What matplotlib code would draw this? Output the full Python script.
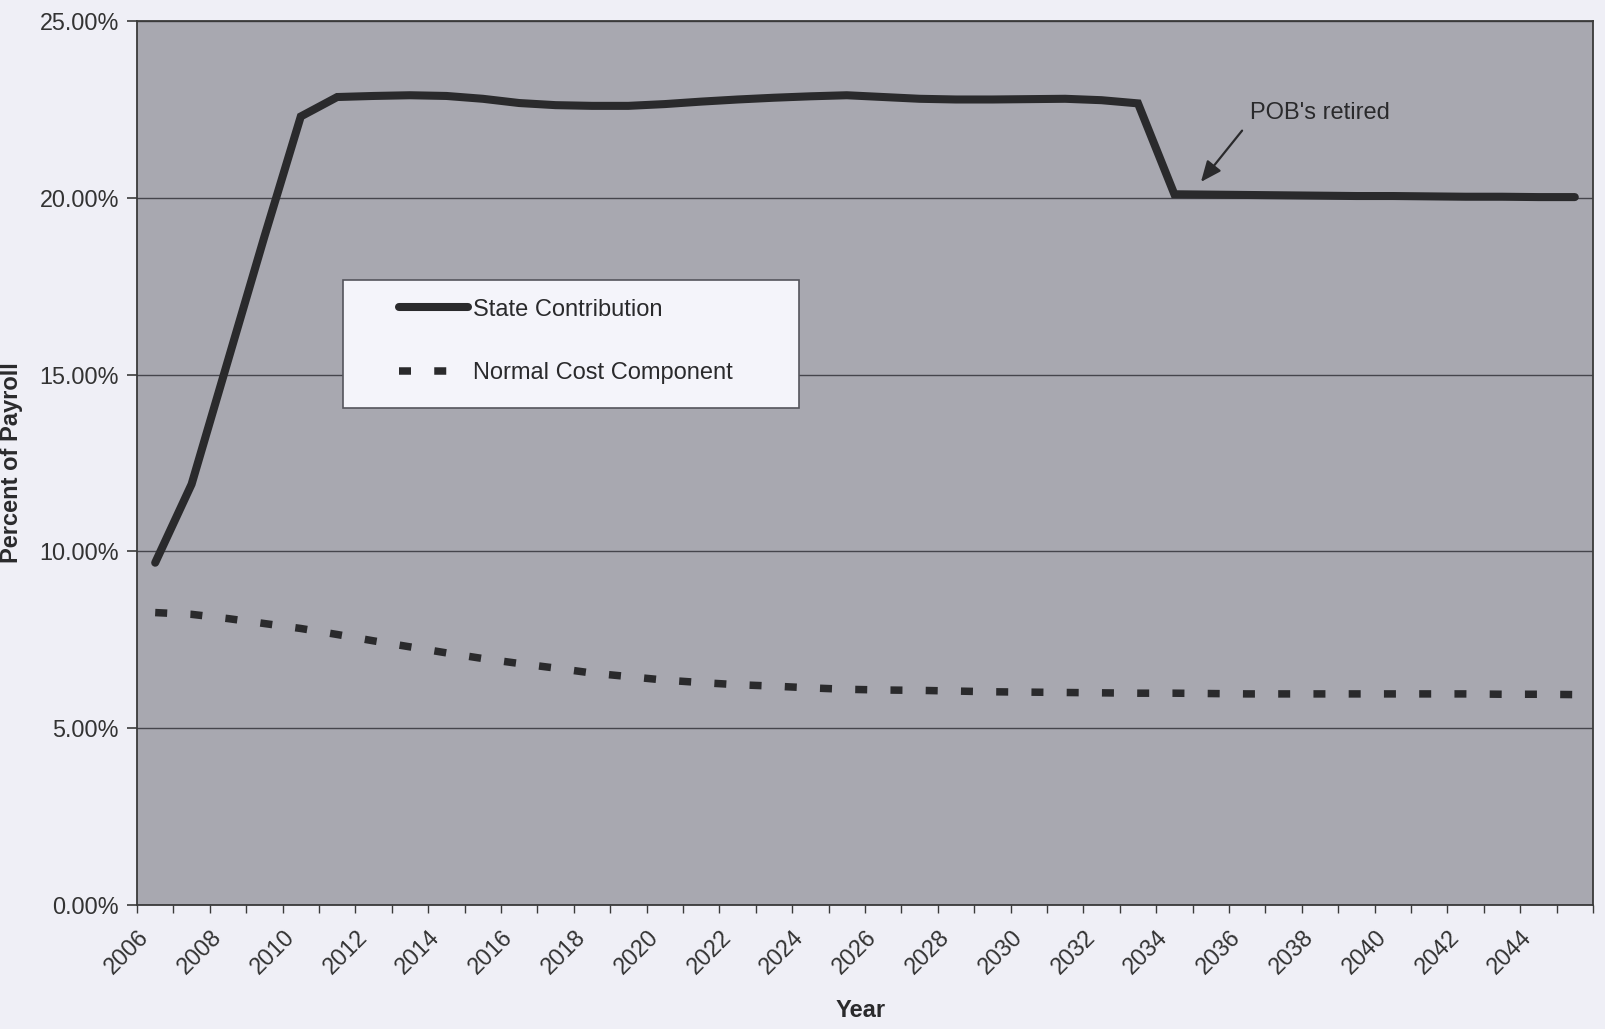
import matplotlib
matplotlib.use('Agg')
import matplotlib.pyplot as plt
from matplotlib.patches import Rectangle
import numpy as np

plt.rcParams['font.family'] = ['Liberation Sans', 'DejaVu Sans']

years = list(range(2006, 2046))
state_contribution = [9.68, 11.9, 15.4, 18.9, 22.3,
                      22.85, 22.88, 22.9, 22.88, 22.8,
                      22.68, 22.62, 22.6, 22.6, 22.65,
                      22.72, 22.78, 22.83, 22.87, 22.9,
                      22.85, 22.8, 22.78, 22.78, 22.79,
                      22.8, 22.76, 22.67, 20.1, 20.09,
                      20.08, 20.07, 20.06, 20.05, 20.05,
                      20.04, 20.03, 20.03, 20.02, 20.02]
normal_cost = [8.27, 8.22, 8.10, 7.96, 7.82, 7.65, 7.47, 7.30, 7.13, 6.97,
               6.83, 6.70, 6.56, 6.46, 6.36, 6.29, 6.23, 6.19, 6.14, 6.10,
               6.08, 6.07, 6.05, 6.03, 6.02, 6.01, 6.00, 5.99, 5.99, 5.98,
               5.97, 5.97, 5.97, 5.97, 5.97, 5.97, 5.97, 5.96, 5.96, 5.95]
y_ticks = [0, 5, 10, 15, 20, 25]
series_names = ['State Contribution', 'Normal Cost Component']

fig_bg = '#efeff6'
plot_bg = '#a8a8b0'
ink = '#2a2a2c'

fig = plt.figure(figsize=(16.06, 10.29), dpi=100, facecolor=fig_bg)
ax = fig.add_axes([0.0853, 0.1205, 0.9066, 0.8591])
ax.set_facecolor(plot_bg)

x = np.arange(len(years))
ax.plot(x, state_contribution, color=ink, lw=5.8, solid_joinstyle='miter',
        solid_capstyle='round', label=series_names[0], zorder=3)
ax.plot(x, normal_cost, color=ink, lw=5.4, linestyle=(0, (1.6, 3.1)),
        dash_capstyle='butt', label=series_names[1], zorder=3)

ax.set_xlim(-0.5, len(years) - 0.5)
ax.set_ylim(0, 25)

# y axis
ax.set_yticks(y_ticks, labels=[f'{v:.2f}%' for v in y_ticks])
ax.yaxis.grid(True, color='#45454c', lw=1.0)
ax.set_axisbelow(True)
ax.tick_params(axis='y', direction='out', length=7, width=1.2, color='#3a3a3a',
               labelsize=16.8, labelcolor='#333333', pad=6)

# x axis: tick at every category boundary, label every second year
ax.set_xticks(np.arange(len(years) + 1) - 0.5)
xlabels = [str(y) if i % 2 == 0 else '' for i, y in enumerate(years)] + ['']
ax.set_xticklabels(xlabels)
ax.tick_params(axis='x', direction='out', length=6, width=1.0, color='#3a3a3a',
               labelsize=16.8, labelcolor='#333333', pad=9)
plt.setp(ax.get_xticklabels(), rotation=45, ha='right', va='top',
         rotation_mode='anchor')

for side in ['left', 'bottom', 'top', 'right']:
    ax.spines[side].set_color('#3a3a3a')
    ax.spines[side].set_linewidth(1.3)

ax.set_xlabel('Year', fontsize=17, fontweight='bold', color=ink)
ax.xaxis.set_label_coords(0.497, -0.106)
ax.set_ylabel('Percent of Payroll', fontsize=17, fontweight='bold', color=ink)
ax.yaxis.set_label_coords(-0.078, 0.5)

# legend box drawn as a separate frame
ax.add_patch(Rectangle((0.1415, 0.562), 0.313, 0.145, transform=ax.transAxes,
                       facecolor='#f4f4fa', edgecolor='#55555c', lw=1.2,
                       zorder=4))
leg = ax.legend(loc='upper left', bbox_to_anchor=(0.18, 0.686), frameon=False,
                fontsize=17, handlelength=2.9, handletextpad=0.25,
                labelspacing=1.75, borderpad=0, borderaxespad=0)
leg.set_zorder(5)
for t in leg.get_texts():
    t.set_color(ink)

# annotation
ax.text(32.0, 22.4, "POB's retired", fontsize=17, color=ink,
        ha='center', va='center')
ax.annotate('', xy=(28.73, 20.45), xytext=(29.86, 21.9),
            arrowprops=dict(arrowstyle='-|>,head_length=0.7,head_width=0.3',
                            color=ink, lw=1.6, mutation_scale=18,
                            shrinkA=0, shrinkB=0))

plt.savefig('out.png', dpi=100, facecolor=fig_bg)
plt.close(fig)
